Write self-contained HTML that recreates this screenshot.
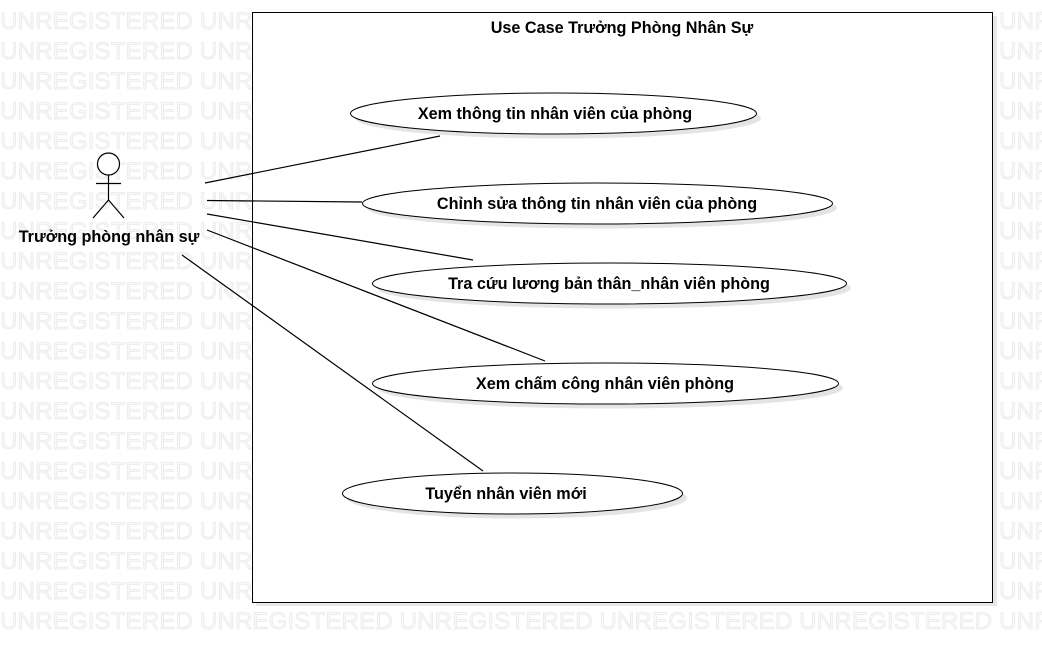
<!DOCTYPE html>
<html><head><meta charset="utf-8"><style>
body{margin:0;width:1042px;height:652px;overflow:hidden;background:#fff;position:relative}
.wm{position:absolute;left:0;top:0;width:1042px;height:652px;overflow:hidden;font-family:"Liberation Sans",sans-serif;font-size:24.3px;color:#f8f8f8;-webkit-text-stroke:0.5px #e2e2e2;white-space:pre;line-height:30px;padding-top:7px;box-sizing:border-box}
svg{position:absolute;left:0;top:0}
text{font-family:"Liberation Sans","Noto Sans CJK SC",sans-serif;font-weight:bold;font-size:16.2px;fill:#000}
</style></head><body>
<div class="wm">UNREGISTERED UNREGISTERED UNREGISTERED UNREGISTERED UNREGISTERED UNREGISTERED
UNREGISTERED UNREGISTERED UNREGISTERED UNREGISTERED UNREGISTERED UNREGISTERED
UNREGISTERED UNREGISTERED UNREGISTERED UNREGISTERED UNREGISTERED UNREGISTERED
UNREGISTERED UNREGISTERED UNREGISTERED UNREGISTERED UNREGISTERED UNREGISTERED
UNREGISTERED UNREGISTERED UNREGISTERED UNREGISTERED UNREGISTERED UNREGISTERED
UNREGISTERED UNREGISTERED UNREGISTERED UNREGISTERED UNREGISTERED UNREGISTERED
UNREGISTERED UNREGISTERED UNREGISTERED UNREGISTERED UNREGISTERED UNREGISTERED
UNREGISTERED UNREGISTERED UNREGISTERED UNREGISTERED UNREGISTERED UNREGISTERED
UNREGISTERED UNREGISTERED UNREGISTERED UNREGISTERED UNREGISTERED UNREGISTERED
UNREGISTERED UNREGISTERED UNREGISTERED UNREGISTERED UNREGISTERED UNREGISTERED
UNREGISTERED UNREGISTERED UNREGISTERED UNREGISTERED UNREGISTERED UNREGISTERED
UNREGISTERED UNREGISTERED UNREGISTERED UNREGISTERED UNREGISTERED UNREGISTERED
UNREGISTERED UNREGISTERED UNREGISTERED UNREGISTERED UNREGISTERED UNREGISTERED
UNREGISTERED UNREGISTERED UNREGISTERED UNREGISTERED UNREGISTERED UNREGISTERED
UNREGISTERED UNREGISTERED UNREGISTERED UNREGISTERED UNREGISTERED UNREGISTERED
UNREGISTERED UNREGISTERED UNREGISTERED UNREGISTERED UNREGISTERED UNREGISTERED
UNREGISTERED UNREGISTERED UNREGISTERED UNREGISTERED UNREGISTERED UNREGISTERED
UNREGISTERED UNREGISTERED UNREGISTERED UNREGISTERED UNREGISTERED UNREGISTERED
UNREGISTERED UNREGISTERED UNREGISTERED UNREGISTERED UNREGISTERED UNREGISTERED
UNREGISTERED UNREGISTERED UNREGISTERED UNREGISTERED UNREGISTERED UNREGISTERED
UNREGISTERED UNREGISTERED UNREGISTERED UNREGISTERED UNREGISTERED UNREGISTERED</div>
<svg width="1042" height="652" viewBox="0 0 1042 652">
<rect x="256" y="16" width="741" height="590" fill="#d8d8d8" opacity="0.6"/>
<rect x="252.5" y="12.5" width="740" height="590" fill="#fff" stroke="#000"/>
<text x="622" y="33" text-anchor="middle" font-size="15.1">Use Case Trưởng Phòng Nhân Sự</text>
<g fill="#e4e4e4">
<ellipse cx="558" cy="118" rx="203" ry="20.5"/>
<ellipse cx="602" cy="208" rx="235" ry="20.5"/>
<ellipse cx="614" cy="288" rx="237" ry="20.5"/>
<ellipse cx="610" cy="388" rx="233" ry="20.5"/>
<ellipse cx="517" cy="498" rx="170" ry="20.5"/>
</g>
<g fill="#fff" stroke="#000" stroke-width="1">
<ellipse cx="553.5" cy="113.5" rx="203" ry="20.5"/>
<ellipse cx="597.5" cy="203.5" rx="235" ry="20.5"/>
<ellipse cx="609.5" cy="283.5" rx="237" ry="20.5"/>
<ellipse cx="605.5" cy="383.5" rx="233" ry="20.5"/>
<ellipse cx="512.5" cy="493.5" rx="170" ry="20.5"/>
</g>
<text x="555" y="119" text-anchor="middle">Xem thông tin nhân viên của phòng</text>
<text x="597" y="209" text-anchor="middle">Chỉnh sửa thông tin nhân viên của phòng</text>
<text x="609" y="289" text-anchor="middle">Tra cứu lương bản thân_nhân viên phòng</text>
<text x="605" y="389" text-anchor="middle">Xem chấm công nhân viên phòng</text>
<text x="506" y="499" text-anchor="middle">Tuyển nhân viên mới</text>
<g stroke="#000" stroke-width="1.2" fill="none">
<line x1="205" y1="183" x2="440" y2="136"/>
<line x1="207" y1="200.5" x2="362" y2="202"/>
<line x1="207" y1="214" x2="473" y2="260"/>
<line x1="207" y1="230" x2="545" y2="361"/>
<line x1="182" y1="255" x2="483" y2="471"/>
<circle cx="108.5" cy="164" r="11" fill="#fff"/>
<line x1="108.5" y1="175" x2="108.5" y2="200"/>
<line x1="96" y1="183.5" x2="121" y2="183.5"/>
<line x1="108.5" y1="200" x2="93" y2="218"/>
<line x1="108.5" y1="200" x2="124" y2="218"/>
</g>
<text x="109" y="242" text-anchor="middle">Trưởng phòng nhân sự</text>
</svg>
</body></html>
